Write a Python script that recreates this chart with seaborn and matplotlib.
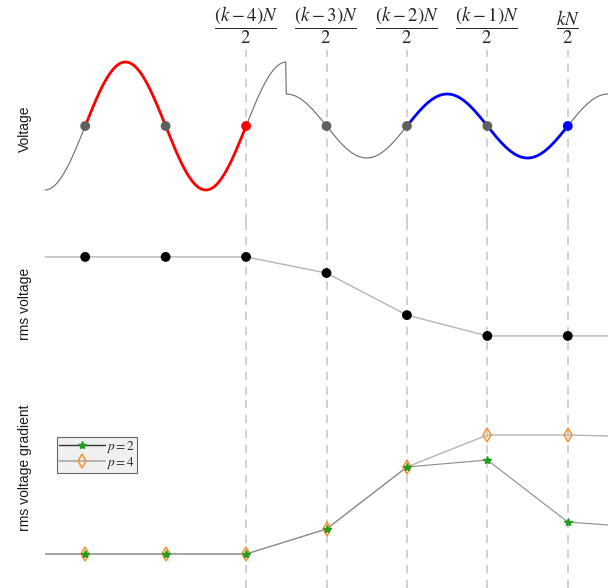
import numpy as np
import pandas as pd
import matplotlib.pyplot as plt
from matplotlib.lines import Line2D
import seaborn as sns

sns.set_style("white")
plt.rcParams["font.family"] = ["Liberation Sans", "DejaVu Sans"]
plt.rcParams["mathtext.fontset"] = "stix"

# positions are in units of N/2
sample_pos = [0, 1, 2, 3, 4, 5, 6]
boundary_pos = [2, 3, 4, 5, 6]
boundary_labels = [r"$\dfrac{(k-4)N}{2}$", r"$\dfrac{(k-3)N}{2}$", r"$\dfrac{(k-2)N}{2}$",
                   r"$\dfrac{(k-1)N}{2}$", r"$\dfrac{kN}{2}$"]
dot_kind = ["old", "old", "red", "old", "old", "old", "blue"]

# voltage waveform: sine whose amplitude drops at switch_at
amp_before = 1.0
amp_after = 0.5
switch_at = 2.5
x_min, x_max = -0.5, 6.5
red_span = (0, 2)
blue_span = (4, 6)

# rms voltage (line runs past the first/last sample)
rms_x = [-0.5, 0, 1, 2, 3, 4, 5, 6, 6.5]
rms_vals = [0.707, 0.707, 0.707, 0.707, 0.635, 0.447, 0.354, 0.354, 0.354]

# rms voltage gradient
grad_x = [-0.5, 0, 1, 2, 3, 4, 5, 6, 6.5]
grad_p2 = [0.0, 0.0, 0.0, 0.0, 0.25, 0.87, 0.94, 0.32, 0.29]
grad_p4 = [0.0, 0.0, 0.0, 0.0, 0.25, 0.87, 1.19, 1.19, 1.18]

panel_labels = ["Voltage", "rms voltage", "rms voltage gradient"]

GREEN = "#1f9e1f"
ORANGE = "#f5922f"


def wave(x0, x1, n=400):
    t = np.linspace(x0, x1, n)
    amp = np.where(t < switch_at, amp_before, amp_after)
    return t, amp * np.sin(np.pi * t)


fig = plt.figure(figsize=(6.15, 5.88), dpi=100)
W, H = 615, 588
left, right = 45, 608


def add_axes(top_px, bot_px):
    return fig.add_axes([left / W, 1 - bot_px / H, (right - left) / W, (bot_px - top_px) / H])


ax_v = add_axes(50, 222)
ax_r = add_axes(222, 395)
ax_g = add_axes(395, 588)

for ax in (ax_v, ax_r, ax_g):
    ax.set_facecolor("none")
    ax.set_xlim(x_min, x_max)
    for b in boundary_pos:
        ax.axvline(b, color="#c8c8c8", lw=1.2, ls=(0, (5, 4)), zorder=0)
    ax.set_yticks([])
    for s in ax.spines.values():
        s.set_visible(False)

# --- voltage ---
t1, v1 = wave(x_min, switch_at)
t2, v2 = wave(switch_at, x_max)
wave_df = pd.DataFrame({"t": np.concatenate([t1, t2]), "v": np.concatenate([v1, v2])})
sns.lineplot(data=wave_df, x="t", y="v", sort=False, estimator=None, color="#6a6a6a", lw=0.8, ax=ax_v)
tr, vr = wave(*red_span)
sns.lineplot(x=tr, y=vr, sort=False, estimator=None, color="red", lw=2, ax=ax_v)
tb, vb = wave(*blue_span)
sns.lineplot(x=tb, y=vb, sort=False, estimator=None, color="blue", lw=2, ax=ax_v)
sns.scatterplot(x=sample_pos, y=[0] * len(sample_pos), hue=dot_kind,
                palette={"old": "#606060", "red": "red", "blue": "blue"},
                s=50, edgecolor="none", legend=False, zorder=5, ax=ax_v)
ax_v.set_ylim(-1.5, 1.1875)
ax_v.xaxis.tick_top()
ax_v.set_xticks(boundary_pos)
ax_v.set_xticklabels(boundary_labels)
ax_v.tick_params(axis="x", length=0, pad=3, labelsize=13.5)

# --- rms voltage ---
sns.lineplot(x=rms_x, y=rms_vals, estimator=None, color="#b4b4b4", lw=1.0, ax=ax_r)
sns.scatterplot(x=sample_pos, y=rms_vals[1:-1], color="black", s=50, edgecolor="none", zorder=5, ax=ax_r)
ax_r.set_ylim(0.090, 0.863)
ax_r.set_xticks([])

# --- rms voltage gradient ---
sns.lineplot(x=grad_x, y=grad_p4, estimator=None, color="#b4b4b4", lw=1.0, ax=ax_g)
sns.lineplot(x=grad_x, y=grad_p2, estimator=None, color="#8a8a8a", lw=0.8, ax=ax_g)
ax_g.plot(sample_pos, grad_p4[1:-1], ls="none", marker="d", ms=7.5, mfc="none", mec=ORANGE, mew=1.1, zorder=5)
ax_g.plot(sample_pos, grad_p2[1:-1], ls="none", marker="*", ms=6, color=GREEN, zorder=6)
ax_g.set_ylim(-0.34, 1.59)
ax_g.set_xticks([])

for ax in (ax_v, ax_r, ax_g):
    ax.set_xlabel("")
    ax.set_ylabel("")

# panel labels, centred (in px) at x=25 and the given heights
for text, y_px in zip(panel_labels, [129, 304, 468]):
    fig.text(25 / W, 1 - y_px / H, text, rotation=90, ha="center", va="center",
             fontsize=10, color="#1a1a1a")

handles = [
    Line2D([], [], color="#333333", lw=1.0, marker="*", ms=6, mfc=GREEN, mec=GREEN),
    Line2D([], [], color="#a8a8a8", lw=1.2, marker="d", ms=7, mfc="none", mec=ORANGE, mew=1.1),
]
leg = ax_g.legend(handles, [r"$p = 2$", r"$p = 4$"], loc="upper left",
                  bbox_to_anchor=(12 / 563, (588 - 437) / 193), fontsize=9.5, frameon=True,
                  fancybox=False, framealpha=1, handlelength=3.5, handletextpad=0.1,
                  borderpad=0.15, labelspacing=0.0, borderaxespad=0)
leg.get_frame().set_facecolor("#f0f0f0")
leg.get_frame().set_edgecolor("#666666")
leg.get_frame().set_linewidth(0.8)

fig.savefig("out.png", dpi=100)
